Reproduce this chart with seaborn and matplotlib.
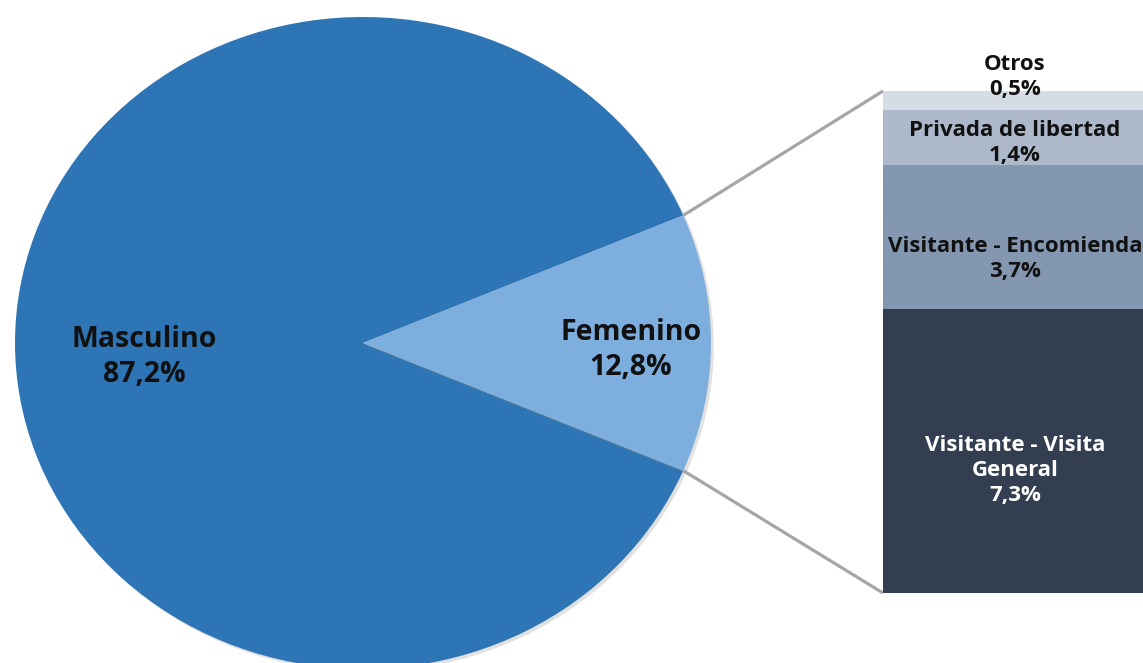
import numpy as np
import seaborn as sns
import matplotlib
matplotlib.use("Agg")
import matplotlib.pyplot as plt
import matplotlib.patheffects as pe

# data
sexo_labels = ["Masculino", "Femenino"]
sexo_pct = [87.2, 12.8]
sexo_colors = ["#2E75B6", "#7DAEDD"]

fem_labels = ["Visitante - Visita\nGeneral", "Visitante - Encomienda", "Privada de libertad", "Otros"]
fem_pct = [7.3, 3.7, 1.4, 0.5]
fem_colors = ["#333F50", "#8497B0", "#ADB9CA", "#D6DCE5"]
fem_text_colors = ["white", "#111111", "#111111", "#111111"]


def fmt(v):
    return f"{v:.1f}%".replace(".", ",")


sns.set_theme(style="white")
plt.rcParams["font.family"] = ["Open Sans", "DejaVu Sans"]

W, H = 1143, 663
fig = plt.figure(figsize=(W / 100, H / 100), dpi=100)

# the original is a bit wider than tall, so the pie is drawn as unit circle
# in an axes with different x / y scales
cx, cy, rx, ry = 363, 343, 348, 326


def px(x):
    return (x - cx) / rx


def py(y):
    return (cy - y) / ry


ax0 = fig.add_axes([0, 0, 1, 1])
half = sexo_pct[1] / 100 * 360 / 2
shadow = [pe.SimplePatchShadow(offset=(2, -2), shadow_rgbFace="#888888", alpha=0.25), pe.Normal()]
wedges, _ = ax0.pie(sexo_pct, colors=sexo_colors, startangle=half, counterclock=True,
                    radius=1, frame=True, wedgeprops=dict(linewidth=0))
for w in wedges:
    w.set_path_effects(shadow)
ax0.set_aspect("auto")
ax0.set_xlim(px(0), px(W))
ax0.set_ylim(py(H), py(0))
ax0.axis("off")

ax0.text(px(144), py(357), f"{sexo_labels[0]}\n{fmt(sexo_pct[0])}", ha="center", va="center",
         fontsize=20.5, fontweight="bold", color="#111111", linespacing=1.3)
ax0.text(px(631), py(350), f"{sexo_labels[1]}\n{fmt(sexo_pct[1])}", ha="center", va="center",
         fontsize=20.5, fontweight="bold", color="#111111", linespacing=1.3)

# stacked bar for the Femenino slice
bx0, by0, bx1, by1 = 883, 593, 1147, 91
ax1 = fig.add_axes([bx0 / W, 1 - by0 / H, (bx1 - bx0) / W, (by0 - by1) / H])
total = sum(fem_pct)
cum = np.cumsum(fem_pct)
for top, col in zip(cum[::-1], fem_colors[::-1]):
    sns.barplot(x=[0], y=[top], color=col, width=1, ax=ax1, saturation=1, linewidth=0)
ax1.set_xlim(-0.5, 0.5)
ax1.set_ylim(0, total)
ax1.axis("off")

offsets = [14, 16, 4]
bottoms = cum - np.array(fem_pct)
for i, (lab, v) in enumerate(zip(fem_labels, fem_pct)):
    if i == len(fem_pct) - 1:
        xy, dy = (0, total), 10
    else:
        xy, dy = (0, bottoms[i] + v / 2), -offsets[i]
    ax1.annotate(f"{lab}\n{fmt(v)}", xy=xy, xytext=(0, dy), textcoords="offset points",
                 ha="center", va="center", fontsize=16, fontweight="bold",
                 color=fem_text_colors[i], linespacing=1.27, annotation_clip=False)

# connector lines from the Femenino wedge to the bar
t = np.deg2rad(half)
ax0.plot([np.cos(t), px(bx0)], [np.sin(t), py(by1)], color="#A6A6A6", lw=2.3,
         solid_capstyle="butt")
ax0.plot([np.cos(t), px(bx0)], [-np.sin(t), py(by0)], color="#A6A6A6", lw=2.3,
         solid_capstyle="butt")

fig.savefig("out.png", dpi=100)
